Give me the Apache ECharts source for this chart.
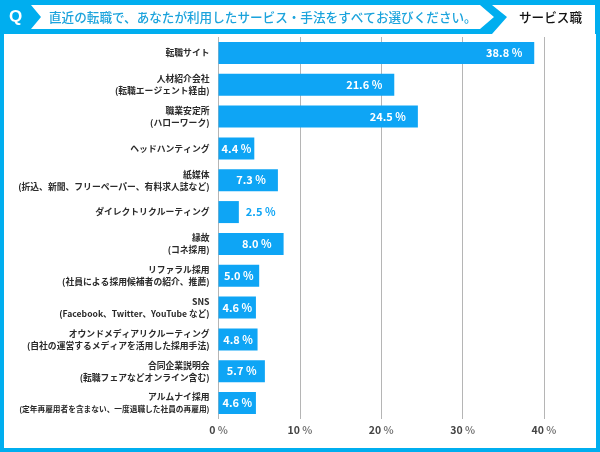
<!DOCTYPE html>
<html><head><meta charset="utf-8">
<style>html,body{margin:0;padding:0;background:#fff}#c{width:600px;height:452px}</style>
<script src="https://cdn.jsdelivr.net/npm/echarts@6/dist/echarts.min.js"></script>
</head><body><div id="c"></div>
<script>
const categories = [
 '転職サイト',
 '人材紹介会社\n(転職エージェント経由)',
 '職業安定所\n(ハローワーク)',
 'ヘッドハンティング',
 '紙媒体\n(折込、新聞、フリーペーパー、有料求人誌など)',
 'ダイレクトリクルーティング',
 '縁故\n(コネ採用)',
 'リファラル採用\n(社員による採用候補者の紹介、推薦)',
 'SNS\n(Facebook、Twitter、YouTube など)',
 'オウンドメディアリクルーティング\n(自社の運営するメディアを活用した採用手法)',
 '合同企業説明会\n(転職フェアなどオンライン含む)',
 'アルムナイ採用\n(定年再雇用者を含まない、一度退職した社員の再雇用)'
];
const values = [38.8,21.6,24.5,4.4,7.3,2.5,8.0,5.0,4.6,4.8,5.7,4.6];
const questionText = '直近の転職で、あなたが利用したサービス・手法をすべてお選びください。';
const tagText = 'サービス職';
const BLUE = '#00aeef', BAR = '#0ea5f5';
const FONT = '"Noto Sans CJK JP","Noto Sans",sans-serif';
const chart = echarts.init(document.getElementById('c'), null, {renderer:'canvas'});
function labelFmt(s){
 const parts = s.split('\n');
 if(parts.length===1) return '{a|'+s+'}';
 const sub = parts[1];
 const st = /[A-Za-z]/.test(sub) ? 'd' : (sub.length>24 ? 'c' : 'b');
 return '{a|'+parts[0]+'}\n{'+st+'|'+sub+'}';
}
const lab = (size,ff)=>({fontSize:size,fontWeight:'bold',color:'#2a2a2a',lineHeight:12,align:'right',fontFamily:ff||FONT});
chart.setOption({
 animation:false,
 textStyle:{fontFamily:FONT},
 grid:{left:218.5,right:56,top:37,bottom:33,containLabel:false,outerBoundsMode:'none'},
 xAxis:{type:'value',min:0,max:40,interval:10,
  axisLine:{show:false},axisTick:{show:false},
  splitLine:{show:true,lineStyle:{color:'#b5b5b5',width:1}},
  axisLabel:{margin:6,color:'#333',fontSize:10.5,fontWeight:'bold',fontFamily:FONT,
   formatter:v=>'{n|'+v+'} {p|%}',
   rich:{n:{fontSize:10.5,fontWeight:'bold',color:'#444'},p:{fontSize:10.5,color:'#777'}}}},
 yAxis:{type:'category',inverse:true,data:categories,
  axisLine:{show:false},axisTick:{show:false},
  axisLabel:{margin:9,interval:0,align:'right',formatter:labelFmt,
   rich:{a:lab(8.8),b:lab(8.8),c:lab(7.7),d:lab(8.6,'"Noto Sans CJK JP",sans-serif')}}},
 series:[{type:'bar',barWidth:22,
  itemStyle:{color:BAR},
  data:values.map(v=>({value:v,label:{
    position:v<3?'right':(v<7?'inside':'insideRight'),
    distance:v<3?7:12,
    color:v<3?BAR:'#fff'}})),
  label:{show:true,fontSize:11,fontWeight:'bold',fontFamily:FONT,
   formatter:p=>p.value.toFixed(1)+' %'}}],
 graphic:[
  {type:'rect',silent:true,z:-1,shape:{x:2,y:2,width:596,height:448},style:{fill:'none',stroke:BLUE,lineWidth:4}},
  {type:'rect',silent:true,z:-1,shape:{x:0,y:0,width:600,height:34},style:{fill:BLUE}},
  {type:'polygon',silent:true,z:1,shape:{points:[[31,5],[480,5],[494,17],[480,29],[31,29],[41,17]]},style:{fill:'#fff'}},
  {type:'polygon',silent:true,z:1,shape:{points:[[492,5],[595,5],[595,34],[492,34],[507,17]]},style:{fill:'#fff'}},
  {type:'text',silent:true,z:2,x:9,y:17,style:{text:'Q',fill:'#fff',verticalAlign:'middle',font:'bold 17px "Liberation Sans",sans-serif'}},
  {type:'text',silent:true,z:2,x:49,y:17,style:{text:questionText,fill:'#1ba3dc',verticalAlign:'middle',font:'500 12.6px '+FONT}},
  {type:'text',silent:true,z:2,x:519,y:17,style:{text:tagText,fill:'#111',verticalAlign:'middle',font:'500 12.6px '+FONT}}
 ]
});
</script></body></html>
